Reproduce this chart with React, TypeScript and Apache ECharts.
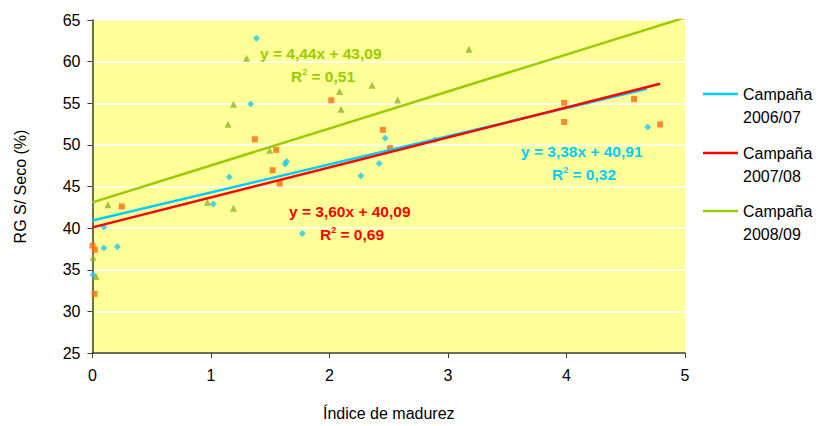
import React, { useEffect, useRef } from "react";
import * as echarts from "echarts";

// Scatter data [Índice de madurez, RG S/ Seco (%)]
const campana0607: number[][] = [
  [1.383, 62.8], [1.335, 54.9], [1.625, 47.7], [1.638, 48.0], [1.155, 46.15],
  [1.02, 42.9], [0.096, 40.15], [0.096, 37.6], [0.21, 37.75], [0.005, 34.4],
  [1.77, 39.35], [2.47, 50.8], [2.42, 47.75], [2.265, 46.3], [2.89, 50.6],
  [4.685, 52.15],
];
const campana0708: number[][] = [
  [1.37, 50.67], [1.55, 49.4], [1.52, 46.95], [1.58, 45.35], [0.247, 42.6],
  [0.0, 37.9], [0.02, 37.4], [0.017, 32.1], [2.015, 55.35], [2.45, 51.8],
  [2.51, 49.6], [3.98, 55.05], [3.98, 52.75], [4.57, 55.5], [4.79, 52.45],
];
const campana0809: number[][] = [
  [1.3, 60.4], [1.19, 54.87], [1.144, 52.47], [1.495, 49.35], [0.97, 43.1],
  [1.19, 42.4], [0.13, 42.8], [0.005, 36.5], [0.03, 34.2], [2.085, 56.4],
  [2.097, 54.27], [2.36, 57.15], [2.575, 55.4], [3.176, 61.5],
];

// Trend lines: slope, intercept, x range end
const seriesNames = ["Campaña\n2006/07", "Campaña\n2007/08", "Campaña\n2008/09"];
const slopes = [3.38, 3.6, 4.44];
const intercepts = [40.91, 40.09, 43.09];
const trendEnds = [4.68, 4.79, 5];
const eqTexts = ["y = 3,38x + 40,91", "y = 3,60x + 40,09", "y = 4,44x + 43,09"];
const r2Texts = ["0,32", "0,69", "0,51"];

const lineColors = ["#00CCFF", "#FF0000", "#99CC00"];
const markerColors = ["#1EC8F5", "#FF6A10", "#8DB52A"];
const symbols = ["diamond", "rect", "triangle"];
const symbolSizes = [7, 6, 7];
const scatterData = [campana0607, campana0708, campana0809];

const FONT = "'Liberation Sans', Arial, sans-serif";

export default function App() {
  const ref = useRef<HTMLDivElement>(null);
  useEffect(() => {
    if (!ref.current) return;
    const chart = echarts.init(ref.current, undefined, { renderer: "svg" });

    const scatterSeries = scatterData.map((d, i) => ({
      type: "scatter",
      name: "pts" + i,
      data: d,
      symbol: symbols[i],
      symbolSize: symbolSizes[i],
      itemStyle: { color: markerColors[i] },
      z: 2,
    }));
    const trendSeries = slopes.map((m, i) => ({
      type: "line",
      name: seriesNames[i],
      data: [
        [0, intercepts[i]],
        [trendEnds[i], +(m * trendEnds[i] + intercepts[i]).toFixed(3)],
      ],
      showSymbol: false,
      symbol: "none",
      clip: true,
      lineStyle: { color: lineColors[i], width: 2.5 },
      z: 3,
    }));

    // equation label positions (pixels)
    const eqPos = [
      [521, 151, 552, 174],
      [289, 211, 320, 234],
      [260, 53, 291, 76],
    ];
    const eqGraphics: any[] = [];
    eqPos.forEach((p, i) => {
      eqGraphics.push({
        type: "text",
        x: p[0],
        y: p[1],
        z: 10,
        style: {
          text: eqTexts[i],
          fill: lineColors[i],
          font: `bold 15.5px ${FONT}`,
          verticalAlign: "middle",
        },
      });
      eqGraphics.push({
        type: "text",
        x: p[2],
        y: p[3],
        z: 10,
        style: {
          text: `{b|R}{s|2}{b| = ${r2Texts[i]}}`,
          verticalAlign: "middle",
          rich: {
            b: { fill: lineColors[i], fontWeight: "bold", fontSize: 15.5, fontFamily: FONT },
            s: { fill: lineColors[i], fontWeight: "bold", fontSize: 9, fontFamily: FONT, verticalAlign: "top", padding: [0, 0, 8, 0] },
          },
        },
      });
    });

    const legendYs = [94, 153, 211];
    const legendGraphics: any[] = [];
    legendYs.forEach((ly, i) => {
      legendGraphics.push({
        type: "line",
        shape: { x1: 703, y1: ly, x2: 738, y2: ly },
        style: { stroke: lineColors[i], lineWidth: 2.5 },
      });
      const parts = seriesNames[i].split("\n");
      legendGraphics.push({
        type: "text",
        x: 743,
        y: ly,
        style: { text: parts[0], fill: "#000", font: `16px ${FONT}`, verticalAlign: "middle" },
      });
      legendGraphics.push({
        type: "text",
        x: 743,
        y: ly + 23,
        style: { text: parts[1], fill: "#000", font: `16px ${FONT}`, verticalAlign: "middle" },
      });
    });

    chart.setOption({
      animation: false,
      backgroundColor: "#FFFFFF",
      grid: {
        left: 92.5,
        top: 20,
        right: 134,
        bottom: 71,
        show: true,
        backgroundColor: "#FFFF99",
        borderWidth: 0,
      },
      xAxis: {
        type: "value",
        min: 0,
        max: 5,
        interval: 1,
        name: "Índice de madurez",
        nameLocation: "middle",
        nameGap: 52,
        nameTextStyle: { fontFamily: FONT, fontSize: 16, color: "#000" },
        axisLine: { show: true, onZero: false, lineStyle: { color: "#3F3F2A", width: 1.5 } },
        axisTick: { show: true, length: 5, lineStyle: { color: "#3F3F2A" } },
        axisLabel: { fontFamily: FONT, fontSize: 16, color: "#000", margin: 14 },
        splitLine: { show: false },
      },
      yAxis: {
        type: "value",
        min: 25,
        max: 65,
        interval: 5,
        name: "RG S/ Seco (%)",
        nameLocation: "middle",
        nameGap: 64,
        nameRotate: 90,
        nameTextStyle: { fontFamily: FONT, fontSize: 16, color: "#000" },
        axisLine: { show: true, lineStyle: { color: "#3F3F2A", width: 1.5 } },
        axisTick: { show: true, length: 5, lineStyle: { color: "#3F3F2A" } },
        axisLabel: { fontFamily: FONT, fontSize: 16, color: "#000", margin: 12 },
        splitLine: { show: true, lineStyle: { color: "#FFFFFF", width: 1.5 } },
      },
      graphic: [...eqGraphics, ...legendGraphics],
      series: [...scatterSeries, ...trendSeries],
    });
    return () => chart.dispose();
  }, []);
  return (
    <div
      ref={ref}
      style={{ position: "absolute", left: 0, top: 0, width: 819, height: 426 }}
    />
  );
}
